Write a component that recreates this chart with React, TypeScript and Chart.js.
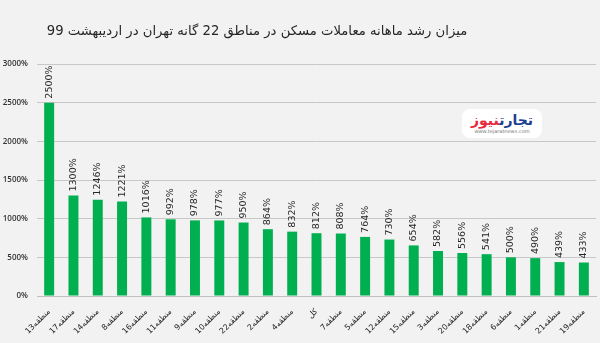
import React, { useEffect, useRef } from "react";
import { Chart, registerables } from "chart.js";

Chart.register(...registerables);

const titleText = "میزان رشد ماهانه معاملات مسکن در مناطق 22 گانه تهران در اردیبهشت 99";

const categories = [
  "منطقه13", "منطقه17", "منطقه14", "منطقه8", "منطقه16", "منطقه11", "منطقه9", "منطقه10",
  "منطقه22", "منطقه2", "منطقه4", "کل", "منطقه7", "منطقه5", "منطقه12", "منطقه15",
  "منطقه3", "منطقه20", "منطقه18", "منطقه6", "منطقه1", "منطقه21", "منطقه19",
];

const growthValues = [
  2500, 1300, 1246, 1221, 1016, 992, 978, 977, 950, 864, 832, 812, 808, 764, 730, 654,
  582, 556, 541, 500, 490, 439, 433,
];

const yMin = 0;
const yMax = 3000;
const yStep = 500;

const barLabelPlugin = {
  id: "barLabels",
  afterDatasetsDraw(chart: any) {
    const ctx = chart.ctx;
    const meta = chart.getDatasetMeta(0);
    ctx.save();
    ctx.font = "9.5px 'DejaVu Sans'";
    ctx.fillStyle = "#262626";
    ctx.textAlign = "left";
    ctx.textBaseline = "middle";
    meta.data.forEach((bar: any, i: number) => {
      ctx.save();
      ctx.translate(bar.x, bar.y - 4);
      ctx.rotate(-Math.PI / 2);
      ctx.fillText(growthValues[i] + "%", 0, 0);
      ctx.restore();
    });
    ctx.restore();
  },
};

export default function App() {
  const canvasRef = useRef<HTMLCanvasElement>(null);

  useEffect(() => {
    if (!canvasRef.current) return;
    const chart = new Chart(canvasRef.current, {
      type: "bar",
      data: {
        labels: categories,
        datasets: [
          {
            data: growthValues,
            backgroundColor: "#00b050",
            borderWidth: 0,
            barPercentage: 0.41,
            categoryPercentage: 1,
          },
        ],
      },
      options: {
        responsive: false,
        animation: false,
        layout: { padding: { top: 64, right: 4, left: 1, bottom: 0 } },
        plugins: {
          legend: { display: false },
          tooltip: { enabled: false },
          title: { display: false },
        },
        scales: {
          x: {
            grid: { display: false, drawTicks: false },
            border: { display: true, color: "#bfbfbf" },
            afterFit: (scale: any) => {
              scale.paddingLeft = 0;
              scale.paddingRight = 0;
              scale.height = 47;
            },
            ticks: {
              maxRotation: 45,
              minRotation: 45,
              autoSkip: false,
              padding: 11,
              color: "#262626",
              font: { family: "'DejaVu Sans'", size: 8 },
            },
          },
          y: {
            min: yMin,
            max: yMax,
            grid: { color: "#c8c8c8", drawTicks: false, lineWidth: 1 },
            border: { display: false },
            afterFit: (scale: any) => {
              scale.width = 36;
              scale.paddingTop = 0;
              scale.paddingBottom = 0;
            },
            ticks: {
              stepSize: yStep,
              padding: 9,
              color: "#333333",
              font: { family: "'Open Sans'", size: 8, weight: "600" as any },
              callback: (v: any) => v + "%",
            },
          },
        },
      },
      plugins: [barLabelPlugin],
    });
    return () => chart.destroy();
  }, []);

  return (
    <div
      style={{
        position: "fixed",
        left: 0,
        top: 0,
        width: 600,
        height: 343,
        background: "#f2f2f2",
        overflow: "hidden",
      }}
    >
      <canvas ref={canvasRef} width={600} height={343} style={{ position: "absolute", left: 0, top: 0 }} />
      <div
        dir="rtl"
        style={{
          position: "absolute",
          left: 0,
          top: 21,
          width: 514,
          textAlign: "center",
          fontFamily: "'DejaVu Sans'",
          fontSize: 13.2,
          color: "#262626",
          lineHeight: "20px",
        }}
      >
        {titleText}
      </div>
      <div
        style={{
          position: "absolute",
          left: 462,
          top: 109,
          width: 80,
          height: 29,
          background: "#ffffff",
          borderRadius: 8,
          textAlign: "center",
          fontFamily: "'DejaVu Sans'",
        }}
      >
        <div dir="rtl" style={{ fontSize: 14, fontWeight: "bold", lineHeight: "16px", marginTop: 3, letterSpacing: -0.5 }}>
          <span style={{ color: "#1f3f93" }}>تجارت</span>
          <span style={{ color: "#e8283c" }}>نیوز</span>
        </div>
        <div style={{ fontSize: 5, color: "#777", lineHeight: "7px" }}>www.tejaratnews.com</div>
      </div>
    </div>
  );
}
